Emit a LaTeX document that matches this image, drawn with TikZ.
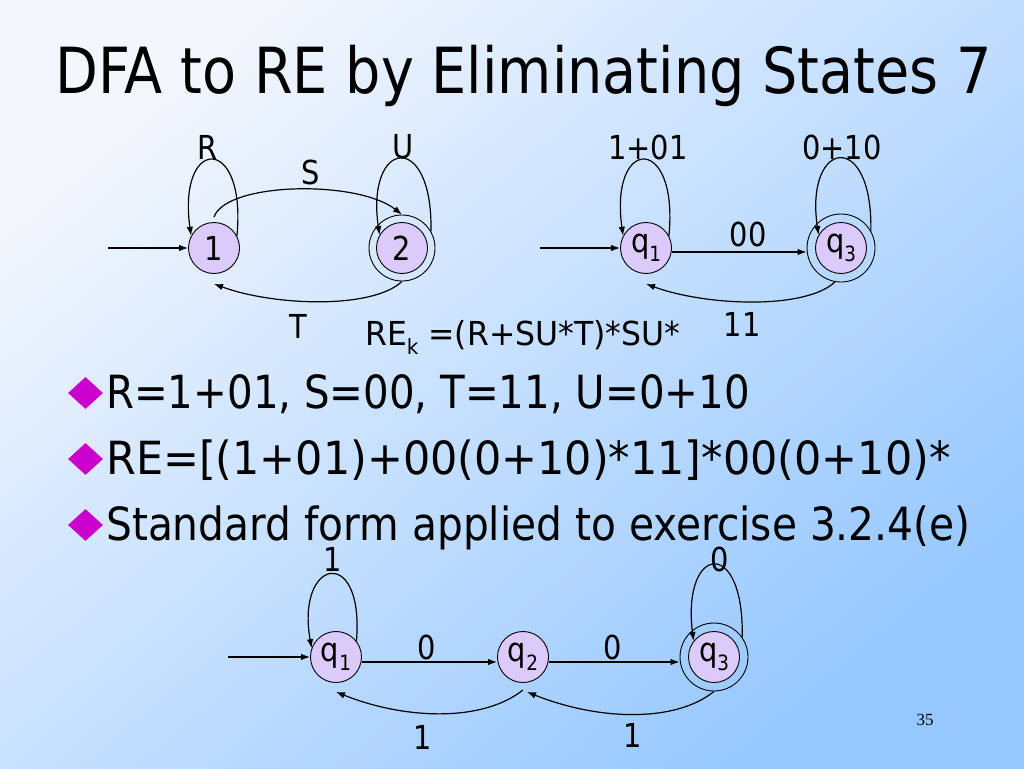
\documentclass[tikz,border=0pt]{standalone}
\usepackage{fontspec}
\setmainfont{DejaVu Sans}[FakeStretch=0.875]
\newfontfamily\numfont{Liberation Serif}
\usetikzlibrary{arrows.meta,shapes.geometric}
\definecolor{bgA}{RGB}{242,246,253}
\definecolor{bgB}{RGB}{150,200,255}
\definecolor{statefill}{RGB}{220,202,250}
\definecolor{bulletc}{RGB}{204,0,204}
\newcommand\labfont{\fontsize{33}{36}\selectfont}
\newcommand\qsub[1]{q\raisebox{-0.28em}{\fontsize{21}{21}\selectfont #1}}
\tikzset{
  st/.style={circle, draw, fill=statefill, minimum size=51pt, inner sep=0pt, line width=0.9pt, font=\labfont},
  acc/.style={circle, draw, minimum size=#1, inner sep=0pt, line width=0.9pt},
  edge/.style={line width=1.2pt, -{Latex[length=9pt,width=6.5pt]}},
  lbl/.style={inner sep=0pt, font=\labfont},
  bul/.style={diamond, fill=bulletc, draw=none, minimum width=35pt, minimum height=32pt, inner sep=0pt},
  btext/.style={anchor=base west, inner sep=0pt, font=\fontsize{45.7}{50}\selectfont}
}
\begin{document}
\begin{tikzpicture}[x=1pt,y=-1pt]
\useasboundingbox (0,0) rectangle (1024,768);
\shade[top color=bgA, bottom color=bgB, shading angle=40] (0,0) rectangle (1024,768);

% title
\node[anchor=base west, inner sep=0pt, font=\fontsize{63.6}{70}\selectfont] (title) at (55,93) {DFA to RE by Eliminating States 7};

% ---------- top-left automaton ----------
\node[st] (n1) at (214,248) {1};
\node[acc=66pt] (n2o) at (402,248) {};
\node[st] (n2) at (402,248) {2};
\coordinate (in1) at (108,248);
\draw[edge] (in1) -- (n1);
\draw[edge] (n1.28) .. controls +(10,-102) and +(-14,-100) .. (n1.152);
\draw[edge] ([yshift=5pt]n1.north) .. controls +(12,-35) and +(-45,-35) .. (n2o.north);
\draw[edge] (n2o.30) .. controls +(2,-102) and +(-14,-96) .. (n2.150);
\draw[edge] (n2o.south) .. controls +(-30,28) and +(60,22) .. ([yshift=-10pt]n1.south);
\node[lbl] (lR) at (208,147) {R};
\node[lbl] (lU) at (403,147) {U};
\node[lbl] (lS) at (311,172) {S};
\node[lbl] (lT) at (298,326) {T};
\node[anchor=base west, inner sep=0pt, font=\labfont] (rek) at (365,345) {\scalebox{1.09}[1]{RE\raisebox{-0.28em}{\fontsize{21}{21}\selectfont k} =(R+SU*T)*SU*}};

% ---------- top-right automaton ----------
\node[st] (q1) at (646,248) {\qsub{1}};
\node[acc=68pt] (q3o) at (841,248) {};
\node[st] (q3) at (841,248) {\qsub{3}};
\coordinate (in2) at (540,248);
\draw[edge] (in2) -- (q1);
\draw[edge] ([yshift=-4pt]q1.east) -- ([yshift=-4pt]q3o.west);
\draw[edge] (q1.28) .. controls +(10,-102) and +(-14,-100) .. (q1.152);
\draw[edge] (q3o.30) .. controls +(2,-102) and +(-14,-96) .. (q3.150);
\draw[edge] (q3o.260) .. controls +(-30,28) and +(60,22) .. ([yshift=-10pt]q1.south);
\node[lbl] (l101) at (648,147) {1+01};
\node[lbl] (l010) at (842,147) {0+10};
\node[lbl, anchor=base] (l00) at (748,246) {00};
\node[lbl] (l11) at (742,324) {11};

% ---------- bullets ----------
\node[bul] (b1) at (85.5,393) {};
\node[btext] (t1) at (106,408) {\scalebox{1.008}[1]{R=1+01, S=00, T=11, U=0+10}};
\node[bul] (b2) at (85.5,459) {};
\node[btext] (t2) at (106,474) {\scalebox{1.073}[1]{RE=[(1+01)+00(0+10)*11]*00(0+10)*}};
\node[bul] (b3) at (85.5,525) {};
\node[btext] (t3) at (106,540) {\scalebox{1.018}[1]{Standard form applied to exercise 3.2.4(e)}};

% ---------- bottom automaton ----------
\node[st] (p1) at (336,657) {\qsub{1}};
\node[st] (p2) at (523,657) {\qsub{2}};
\node[acc=68pt] (p3o) at (714,657) {};
\node[st] (p3) at (714,657) {\qsub{3}};
\coordinate (in3) at (228,657);
\draw[edge] (in3) -- (p1);
\draw[edge] ([yshift=-5pt]p1.east) -- ([yshift=-5pt]p2.west);
\draw[edge] ([yshift=-5pt]p2.east) -- ([yshift=-5pt]p3o.west);
\draw[edge] (p1.38) .. controls +(8,-97) and +(-16,-90) .. (p1.160);
\draw[edge] (p3o.35) .. controls +(2,-102) and +(-12,-96) .. (p3.142);
\draw[edge] ([yshift=-7pt]p2.south) .. controls +(-40,32) and +(70,28) .. ([yshift=-9pt]p1.south);
\draw[edge] (p3o.south) .. controls +(-40,32) and +(70,28) .. ([xshift=4pt,yshift=-9pt]p2.south);
\node[lbl] (m1) at (333,559) {1};
\node[lbl] (m2) at (720,559) {0};
\node[lbl, anchor=base] (m3) at (427,659) {0};
\node[lbl, anchor=base] (m4) at (613,659) {0};
\node[lbl] (m5) at (423,737) {1};
\node[lbl] (m6) at (633,735) {1};

% page number
\node[inner sep=0pt, font=\numfont\fontsize{17}{20}\selectfont] (pg) at (925,720) {35};
\end{tikzpicture}
\end{document}
